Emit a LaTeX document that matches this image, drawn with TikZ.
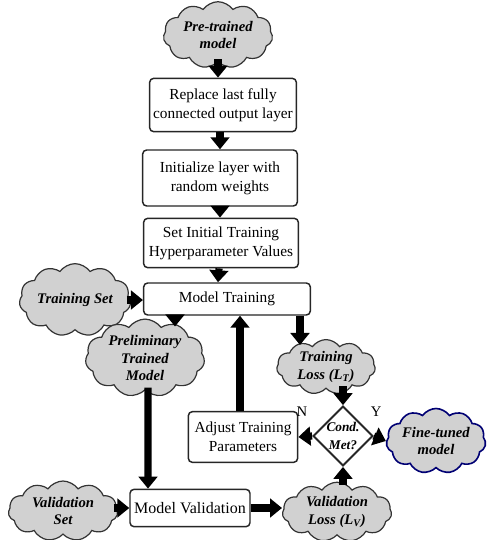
\documentclass[tikz,border=0pt]{standalone}
\usepackage{fontspec}
\setmainfont{Liberation Serif}
\usetikzlibrary{arrows.meta, shapes.geometric, shapes.symbols, calc}

\begin{document}
\begin{tikzpicture}[x=0.75pt, y=-0.75pt,
  stepbox/.style={draw=black!85, line width=1.1pt, rounded corners=3pt, fill=white, align=center, inner sep=0pt, font=\fontsize{11.5}{14.5}\selectfont},
  blob/.style={cloud, cloud puffs=11, cloud puff arc=110, aspect=1.8, draw=black!80, line width=0.9pt, fill=black!18, align=center, inner sep=0pt, font=\fontsize{11}{13}\selectfont\bfseries\itshape},
  decision/.style={diamond, draw=black!85, line width=1.5pt, fill=white, inner sep=0pt, minimum width=42pt, minimum height=41pt, align=center, font=\fontsize{10}{13}\selectfont\bfseries\itshape},
  flow/.style={line width=5.4pt, -{Triangle[width=14pt, length=9pt]}},
]
  \useasboundingbox (0,0) rectangle (502,540);

  % top chain
  \node[blob, minimum width=82pt, minimum height=49pt] (pre) at (218,35) {Pre-trained\\model};
  \node[stepbox, minimum width=110pt, minimum height=40pt] (repl) at (223,105) {Replace last fully\\connected output layer};
  \node[stepbox, minimum width=116pt, minimum height=42pt] (init) at (220,178) {Initialize layer with\\random weights};
  \node[stepbox, minimum width=116pt, minimum height=37pt] (hyper) at (221,243) {Set Initial Training\\Hyperparameter Values};
  \node[stepbox, minimum width=125pt, minimum height=24pt] (train) at (227,299) {Model Training};

  % training side
  \node[blob, minimum width=82pt, minimum height=45pt] (tset) at (75,300) {Training Set};
  \node[blob, minimum width=80pt, minimum height=54pt] (prelim) at (145,358) {Preliminary\\Trained\\Model};
  \node[blob, minimum width=74pt, minimum height=38pt] (tloss) at (326,367) {Training\\Loss (L\textsubscript{T})};

  % decision
  \node[stepbox, minimum width=82pt, minimum height=38pt] (adjust) at (243,437) {Adjust Training\\Parameters};
  \node[decision] (cond) at (343,436) {Cond.\\Met?};
  \node[blob, draw=blue!45!black, line width=1.2pt, minimum width=72pt, minimum height=41pt] (fine) at (436,441) {Fine-tuned\\model};

  % validation
  \node[blob, minimum width=82pt, minimum height=45pt] (vset) at (63,511) {Validation\\Set};
  \node[stepbox, minimum width=90pt, minimum height=28pt, font=\fontsize{12}{14}\selectfont] (val) at (190,508) {Model Validation};
  \node[blob, minimum width=82pt, minimum height=43pt] (vloss) at (337,512) {Validation\\Loss (L\textsubscript{V})};

  % arrows
  \draw[flow] ($(pre.south)+(0,-3)$) -- (pre.south |- repl.north);
  \draw[flow] (init.north |- repl.south) -- (init.north);
  \draw[flow] (init.south) -- (init.south |- hyper.north);
  \draw[flow] ($(hyper.south)+(-2,0)$) -- ($(train.north)+(-9,0)$);
  \draw[flow] ($(tset.east)+(-4,0)$) -- (tset.east -| train.west);
  \draw[flow] ($(train.south)+(-52,0)$) -- ($(prelim.north)+(30,8)$);
  \draw[flow] ($(train.south)+(73,0)$) -- ($(tloss.north)+(-26,6)$);
  \draw[flow] ($(adjust.north)+(-3,0)$) -- ($(train.south)+(13,0)$);
  \draw[flow] ($(prelim.south)+(3,-3)$) -- ($(val.north)+(-42,0)$);
  \draw[flow] ($(vset.east |- val.west)+(-4,0)$) -- (val.west);
  \draw[flow] (val.east) -- (val.east -| vloss.west);
  \draw[flow] ($(tloss.south -| cond.north)+(0,-3)$) -- (cond.north);
  \draw[flow] ($(vloss.north -| cond.south)+(0,3)$) -- (cond.south);
  \draw[flow] (cond.west) -- (adjust.east) node[pos=0.75, above=9pt, font=\fontsize{11}{13}\selectfont] {N};
  \draw[flow] (cond.east) -- (fine.west) node[pos=0.2, above=9pt, font=\fontsize{11}{13}\selectfont] {Y};
\end{tikzpicture}
\end{document}
